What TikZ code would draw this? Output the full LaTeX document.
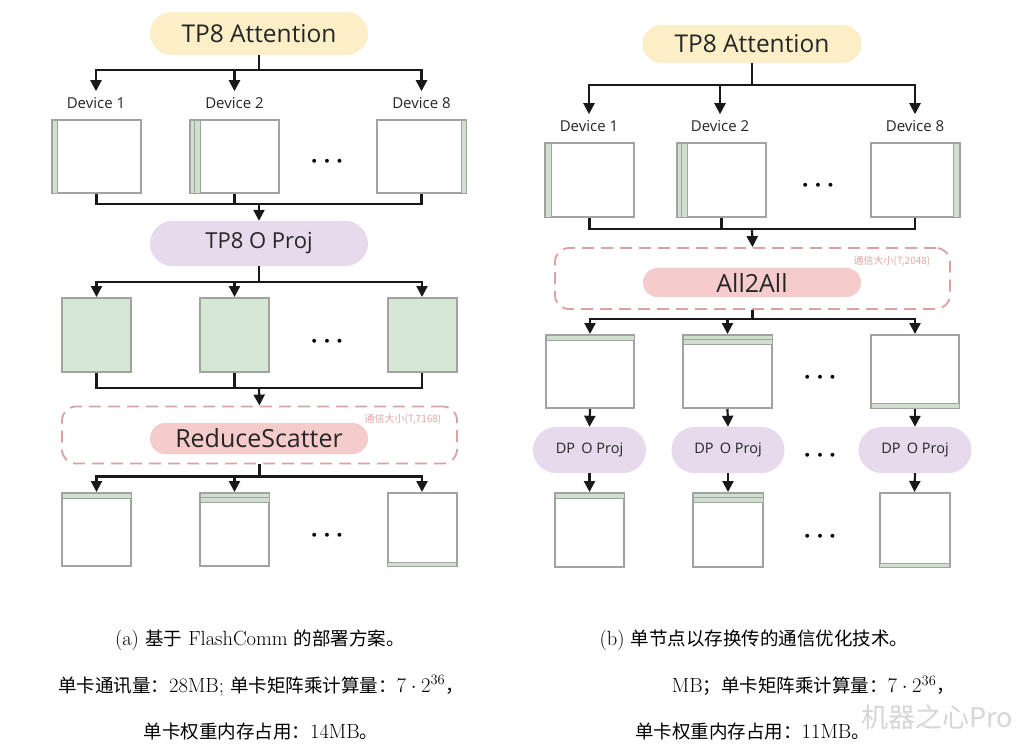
\documentclass[tikz,border=0pt]{standalone}
\usepackage{fontspec}
\newfontfamily\lab{Open Sans}
\newfontfamily\cjk{Noto Sans CJK SC}
\usetikzlibrary{arrows.meta,shapes.misc,calc}
\definecolor{attc}{HTML}{FCEFC8}
\definecolor{projc}{HTML}{E6DAEC}
\definecolor{commc}{HTML}{F5CBCB}
\definecolor{grnc}{HTML}{D6E8D5}
\definecolor{stripec}{HTML}{D0E0CF}
\definecolor{boxline}{HTML}{A2A2A2}
\definecolor{dashc}{HTML}{D9A3A3}
\definecolor{commtxt}{HTML}{E4A6A6}
\definecolor{wmark}{HTML}{D6D6D6}
\newcommand\zhs[1]{{\cjk\fontsize{18.5}{22}\selectfont #1}}
\tikzset{
  pill/.style={rounded rectangle, draw=none, inner sep=0pt, text=black!85},
  bigtxt/.style={font=\lab\fontsize{24.5}{28}\selectfont},
  devlab/.style={font=\lab\fontsize{15}{17}\selectfont, inner sep=0pt, text=black!85},
  wbox/.style={rectangle, draw=boxline, line width=2pt, fill=white, inner sep=0pt},
  gbox/.style={rectangle, draw=boxline, line width=2pt, fill=grnc, inner sep=0pt},
  stripe/.style={draw=boxline, line width=1pt, fill=stripec},
  conn/.style={draw=black!90, line width=2.2pt},
  arr/.style={conn, -{Triangle[width=11pt,length=11pt]}},
  dashbox/.style={rectangle, draw=dashc, line width=1.8pt, dash pattern=on 12pt off 7pt, rounded corners=14pt, inner sep=0pt},
  commlab/.style={font=\cjk\fontsize{10}{11}\selectfont, text=commtxt, inner sep=0pt},
  dotsn/.style={font=\fontsize{24}{26}\selectfont\boldmath, inner sep=0pt},
  captxt/.style={font=\fontsize{20.5}{24}\selectfont, inner sep=0pt}
}
\begin{document}
\begin{tikzpicture}[x=1pt,y=-1pt]
\useasboundingbox[fill=white] (0,0) rectangle (1024,748);

% ================= LEFT PANEL =================
\node[pill, fill=attc, bigtxt, minimum width=218pt, minimum height=43pt] (La) at (259,33.5) {TP8 Attention};
\node[devlab] (Ld1) at (96,103) {Device 1};
\node[devlab] (Ld2) at (234.5,103) {Device 2};
\node[devlab] (Ld3) at (421.5,103) {Device 8};
\foreach \i in {1,2,3} \draw[arr, shorten >=6pt] (La.south) -- ++(0,15) -| (Ld\i.north);

\node[wbox, minimum width=89pt, minimum height=73pt] (Lb1) at (96.5,156.5) {};
\node[wbox, minimum width=89pt, minimum height=73pt] (Lb2) at (234.5,156.5) {};
\node[wbox, minimum width=89pt, minimum height=73pt] (Lb3) at (421.5,156.5) {};
\draw[stripe] ([xshift=1pt,yshift=-1pt]Lb1.north west) rectangle ([xshift=6pt,yshift=1pt]Lb1.south west);
\draw[stripe] ([xshift=1pt,yshift=-1pt]Lb2.north west) rectangle ([xshift=5pt,yshift=1pt]Lb2.south west);
\draw[stripe] ([xshift=5pt,yshift=-1pt]Lb2.north west) rectangle ([xshift=11pt,yshift=1pt]Lb2.south west);
\draw[stripe] ([xshift=-6pt,yshift=-1pt]Lb3.north east) rectangle ([xshift=-1pt,yshift=1pt]Lb3.south east);
\node[dotsn] (Ldot1) at (327,162) {$\cdots$};

\coordinate (Lj2) at (259,204);
\draw[conn] (Lb1.south) |- (Lj2);
\draw[conn] (Lb3.south) |- (Lj2);
\draw[conn] (Lb2.south) -- (Lb2.south |- Lj2);

\node[pill, fill=projc, font=\lab\fontsize{22}{26}\selectfont, minimum width=218pt, minimum height=45pt] (Lo) at (259,243.5) {TP8 O Proj};
\draw[arr] (Lj2) -- (Lo.north);

\node[gbox, minimum width=69pt, minimum height=74pt] (Lg1) at (96.5,335) {};
\node[gbox, minimum width=69pt, minimum height=74pt] (Lg2) at (234.5,335) {};
\node[gbox, minimum width=69pt, minimum height=74pt] (Lg3) at (422,335) {};
\foreach \i in {1,2,3} \draw[arr] (Lo.south) -- ++(0,16) -| (Lg\i.north);
\node[dotsn] (Ldot2) at (327,342) {$\cdots$};

\coordinate (Lj3) at (259,388);
\draw[conn] (Lg1.south) |- (Lj3);
\draw[conn] (Lg3.south) |- (Lj3);
\draw[conn] (Lg2.south) -- (Lg2.south |- Lj3);

\node[dashbox, minimum width=395pt, minimum height=57pt] (Ldash) at (259.5,435) {};
\draw[arr] (Lj3) -- (Ldash.north);
\node[pill, fill=commc, font=\lab\fontsize{25}{29}\selectfont, minimum width=218pt, minimum height=31pt] (Lrs) at (259,438.5) {ReduceScatter};
\node[commlab] (Lc) at (403,419) {通信大小(T,7168)};

\node[wbox, minimum width=69pt, minimum height=73pt] (Lr1) at (96.5,529.5) {};
\node[wbox, minimum width=69pt, minimum height=73pt] (Lr2) at (234.5,529.5) {};
\node[wbox, minimum width=69pt, minimum height=73pt] (Lr3) at (422,529.5) {};
\foreach \i in {1,2,3} \draw[arr] (Ldash.south) -- ++(0,12) -| (Lr\i.north);
\draw[stripe] ([xshift=1pt,yshift=-1pt]Lr1.north west) rectangle ([xshift=-1pt,yshift=-6pt]Lr1.north east);
\draw[stripe] ([xshift=1pt,yshift=-1pt]Lr2.north west) rectangle ([xshift=-1pt,yshift=-5pt]Lr2.north east);
\draw[stripe] ([xshift=1pt,yshift=-5pt]Lr2.north west) rectangle ([xshift=-1pt,yshift=-10pt]Lr2.north east);
\draw[stripe] ([xshift=1pt,yshift=5pt]Lr3.south west) rectangle ([xshift=-1pt,yshift=1pt]Lr3.south east);
\node[dotsn] (Ldot3) at (327,536) {$\cdots$};

% ================= RIGHT PANEL =================
\node[pill, fill=attc, bigtxt, minimum width=219pt, minimum height=38pt] (Ra) at (752,44) {TP8 Attention};
\node[devlab] (Rd1) at (589,126) {Device 1};
\node[devlab] (Rd2) at (720,126) {Device 2};
\node[devlab] (Rd3) at (915,126) {Device 8};
\foreach \i in {1,2,3} \draw[arr, shorten >=6pt] (Ra.south) -- ++(0,22) -| (Rd\i.north);

\node[wbox, minimum width=89pt, minimum height=74pt] (Rb1) at (589.5,180) {};
\node[wbox, minimum width=89pt, minimum height=74pt] (Rb2) at (721.5,180) {};
\node[wbox, minimum width=89pt, minimum height=74pt] (Rb3) at (915,180) {};
\draw[stripe] ([xshift=1pt,yshift=-1pt]Rb1.north west) rectangle ([xshift=7pt,yshift=1pt]Rb1.south west);
\draw[stripe] ([xshift=1pt,yshift=-1pt]Rb2.north west) rectangle ([xshift=5pt,yshift=1pt]Rb2.south west);
\draw[stripe] ([xshift=5pt,yshift=-1pt]Rb2.north west) rectangle ([xshift=11pt,yshift=1pt]Rb2.south west);
\draw[stripe] ([xshift=-7pt,yshift=-1pt]Rb3.north east) rectangle ([xshift=-1pt,yshift=1pt]Rb3.south east);
\node[dotsn] (Rdot1) at (818,186) {$\cdots$};

\coordinate (Rj2) at (752,229);
\draw[conn] (Rb1.south) |- (Rj2);
\draw[conn] (Rb3.south) |- (Rj2);
\draw[conn] (Rb2.south) -- (Rb2.south |- Rj2);

\node[dashbox, minimum width=395pt, minimum height=61pt] (Rdash) at (752.5,278.5) {};
\draw[arr] (Rj2) -- (Rdash.north);
\node[pill, fill=commc, font=\lab\fontsize{25}{29}\selectfont, minimum width=218pt, minimum height=29pt] (Rall) at (752,282.5) {All2All};
\node[commlab] (Rc) at (892,261) {通信大小(T,2048)};

\node[wbox, minimum width=88pt, minimum height=73pt] (Rm1) at (590,371.5) {};
\node[wbox, minimum width=89pt, minimum height=73pt] (Rm2) at (727.5,371.5) {};
\node[wbox, minimum width=88pt, minimum height=73pt] (Rm3) at (915,371.5) {};
\foreach \i in {1,2,3} \draw[arr] (Rdash.south) -- ++(0,9) -| (Rm\i.north);
\draw[stripe] ([xshift=1pt,yshift=-1pt]Rm1.north west) rectangle ([xshift=-1pt,yshift=-6pt]Rm1.north east);
\draw[stripe] ([xshift=1pt,yshift=-1pt]Rm2.north west) rectangle ([xshift=-1pt,yshift=-5pt]Rm2.north east);
\draw[stripe] ([xshift=1pt,yshift=-5pt]Rm2.north west) rectangle ([xshift=-1pt,yshift=-10pt]Rm2.north east);
\draw[stripe] ([xshift=1pt,yshift=6pt]Rm3.south west) rectangle ([xshift=-1pt,yshift=1pt]Rm3.south east);
\node[dotsn] (Rdot2) at (820,378) {$\cdots$};

\node[pill, fill=projc, font=\lab\fontsize{14.5}{17}\selectfont, minimum width=113pt, minimum height=46pt] (Rp1) at (589.5,450) {DP\, O Proj};
\node[pill, fill=projc, font=\lab\fontsize{14.5}{17}\selectfont, minimum width=113pt, minimum height=46pt] (Rp2) at (728,450) {DP\, O Proj};
\node[pill, fill=projc, font=\lab\fontsize{14.5}{17}\selectfont, minimum width=113pt, minimum height=46pt] (Rp3) at (915,450) {DP\, O Proj};
\node[dotsn] (Rdot3) at (820,456) {$\cdots$};

\node[wbox, minimum width=69pt, minimum height=74pt] (Rq1) at (589.5,530) {};
\node[wbox, minimum width=70pt, minimum height=74pt] (Rq2) at (728,530) {};
\node[wbox, minimum width=70pt, minimum height=74pt] (Rq3) at (914.5,530) {};
\foreach \i in {1,2,3} {
  \draw[arr] (Rm\i.south) -- (Rp\i.north);
  \draw[arr] (Rp\i.south) -- (Rq\i.north);
}
\draw[stripe] ([xshift=1pt,yshift=-1pt]Rq1.north west) rectangle ([xshift=-1pt,yshift=-6pt]Rq1.north east);
\draw[stripe] ([xshift=1pt,yshift=-1pt]Rq2.north west) rectangle ([xshift=-1pt,yshift=-5pt]Rq2.north east);
\draw[stripe] ([xshift=1pt,yshift=-5pt]Rq2.north west) rectangle ([xshift=-1pt,yshift=-10pt]Rq2.north east);
\draw[stripe] ([xshift=1pt,yshift=5pt]Rq3.south west) rectangle ([xshift=-1pt,yshift=1pt]Rq3.south east);
\node[dotsn] (Rdot4) at (820,537) {$\cdots$};

% ================= CAPTIONS =================
\node[captxt] (Lcap1) at (260,640) {(a) \zhs{基于} FlashComm \zhs{的部署方案。}};
\node[captxt] (Lcap2) at (261,686) {\zhs{单卡通讯量：}28MB; \zhs{单卡矩阵乘计算量：}$7\cdot 2^{36}$\zhs{，}};
\node[captxt] (Lcap3) at (261,731) {\zhs{单卡权重内存占用：}14MB\zhs{。}};

\node[captxt] (Rcap1) at (754,640) {(b) \zhs{单节点以存换传的通信优化技术。}};
\node[captxt, anchor=east] (Rcap2) at (955,686) {MB\zhs{；单卡矩阵乘计算量：}$7\cdot 2^{36}$\zhs{，}};
\node[captxt, anchor=west] (Rcap3) at (635,731) {\zhs{单卡权重内存占用：}11MB\zhs{。}};
\node[font=\cjk\fontsize{27}{30}\selectfont, text=wmark, inner sep=0pt] (wm) at (937,717) {机器之心Pro};
\end{tikzpicture}
\end{document}
